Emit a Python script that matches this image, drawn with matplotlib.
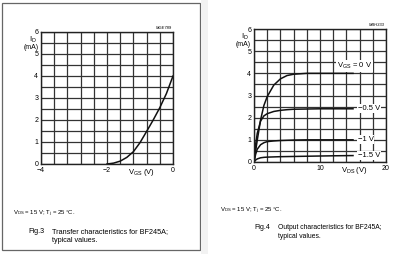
import matplotlib.pyplot as plt
from matplotlib.patches import Rectangle

plt.rcParams['font.family'] = ['Liberation Sans', 'DejaVu Sans']

# Fig.3 transfer characteristics
vgs = [-2.0, -1.8, -1.6, -1.4, -1.2, -1.0, -0.8, -0.6, -0.4, -0.2, 0.0]
id_transfer = [0.0, 0.04, 0.13, 0.3, 0.56, 0.97, 1.48, 2.0, 2.56, 3.2, 4.0]

# Fig.4 output characteristics
vds = [0, 0.25, 0.5, 1, 1.5, 2, 3, 4, 5, 6, 8, 10, 12, 15]
id_vgs0 = [0, 0.5, 1.0, 1.9, 2.55, 2.95, 3.47, 3.75, 3.9, 3.96, 4.0, 4.0, 4.0, 4.0]
id_vgs05 = [0, 0.8, 1.3, 1.85, 2.08, 2.18, 2.28, 2.33, 2.36, 2.38, 2.39, 2.4, 2.4, 2.4]
id_vgs1 = [0, 0.35, 0.58, 0.78, 0.87, 0.92, 0.95, 0.97, 0.98, 0.99, 1.0, 1.0, 1.0, 1.0]
id_vgs15 = [0, 0.09, 0.14, 0.19, 0.21, 0.22, 0.23, 0.24, 0.245, 0.25, 0.26, 0.27, 0.28, 0.29]
out_labels = ["$\\mathregular{V_{GS}}$ = 0 V", "\u22120.5 V", "\u22121 V", "\u22121.5 V"]

W, H = 400, 254
fig = plt.figure(figsize=(4, 2.54), dpi=100)

def px(x, y):
    return x / W, 1 - y / H

def make_axes(x0, y0, x1, y1):
    ax = fig.add_axes([x0 / W, 1 - y1 / H, (x1 - x0) / W, (y1 - y0) / H])
    for s in ax.spines.values():
        s.set_linewidth(1.0)
        s.set_color('#222222')
    ax.grid(which='both', color='#333333', lw=0.9)
    ax.set_axisbelow(True)
    ax.tick_params(which='both', length=0, labelsize=5, pad=2)
    ax.set_yticks(range(7))
    ax.set_yticks([i * 0.5 for i in range(13)], minor=True)
    ax.set_ylim(0, 6)
    return ax

# frame around the left figure
fig.patches.append(Rectangle((2 / W, 1 - 250 / H), 198 / W, 247 / H, transform=fig.transFigure,
                             fill=False, ec='#666666', lw=0.9))
fig.patches.append(Rectangle((201 / W, 0), 7 / W, 1, transform=fig.transFigure,
                             fc='#f2f2f2', ec='none'))

# left panel
ax1 = make_axes(41, 32, 173, 164)
ax1.set_xlim(-4, 0)
ax1.set_xticks([-4, -2, 0])
ax1.set_xticklabels(['\u22124', '\u22122', '0'])
ax1.set_xticks([-4 + 0.4 * i for i in range(11)], minor=True)
ax1.plot(vgs, id_transfer, color='#111111', lw=1.1)

fig.text(*px(29, 42), '$\\mathregular{I_D}$', fontsize=5.5, ha='left', va='baseline')
fig.text(*px(24, 49), '(mA)', fontsize=5, ha='left', va='baseline')
fig.text(*px(141, 174), '$\\mathregular{V_{GS}}$ (V)', fontsize=5.5, ha='center', va='baseline')
fig.text(*px(172, 29), 'MGE789', fontsize=3, style='italic', ha='right', va='baseline')

fig.text(*px(13, 215), '$\\mathregular{V_{DS}}$ = 15 V; $\\mathregular{T_j}$ = 25 \u00b0C.', fontsize=4.3)
fig.text(*px(28, 233), 'Fig.3', fontsize=5.2)
fig.text(*px(52, 233), 'Transfer characteristics for BF245A;', fontsize=5.2)
fig.text(*px(52, 242), 'typical values.', fontsize=5.2)

# right panel
ax2 = make_axes(254, 29, 386, 162)
ax2.set_xlim(0, 20)
ax2.set_xticks([0, 10, 20])
ax2.set_xticks([2 * i for i in range(11)], minor=True)
for curve in [id_vgs0, id_vgs05, id_vgs1, id_vgs15]:
    ax2.plot(vds, curve, color='#111111', lw=1.1)

box = dict(fc='white', ec='none', pad=0.6)
ax2.text(12.6, 4.35, out_labels[0], fontsize=5.5, ha='left', va='center', bbox=box)
ax2.text(15.7, 2.4, out_labels[1], fontsize=5.5, ha='left', va='center', bbox=box)
ax2.text(15.7, 1.0, out_labels[2], fontsize=5.5, ha='left', va='center', bbox=box)
ax2.text(15.7, 0.28, out_labels[3], fontsize=5.5, ha='left', va='center', bbox=box)

fig.text(*px(241, 39), '$\\mathregular{I_D}$', fontsize=5.5, ha='left', va='baseline')
fig.text(*px(236, 46), '(mA)', fontsize=5, ha='left', va='baseline')
fig.text(*px(354, 172), '$\\mathregular{V_{DS}}$ (V)', fontsize=5.5, ha='center', va='baseline')
fig.text(*px(385, 26), 'MBH333', fontsize=3, style='italic', ha='right', va='baseline')

fig.text(*px(220, 212), '$\\mathregular{V_{DS}}$ = 15 V; $\\mathregular{T_j}$ = 25 \u00b0C.', fontsize=4.3)
fig.text(*px(254, 229), 'Fig.4', fontsize=5.0)
fig.text(*px(278, 229), 'Output characteristics for BF245A;', fontsize=4.9)
fig.text(*px(278, 238), 'typical values.', fontsize=4.9)

fig.savefig('out.png', dpi=100)
